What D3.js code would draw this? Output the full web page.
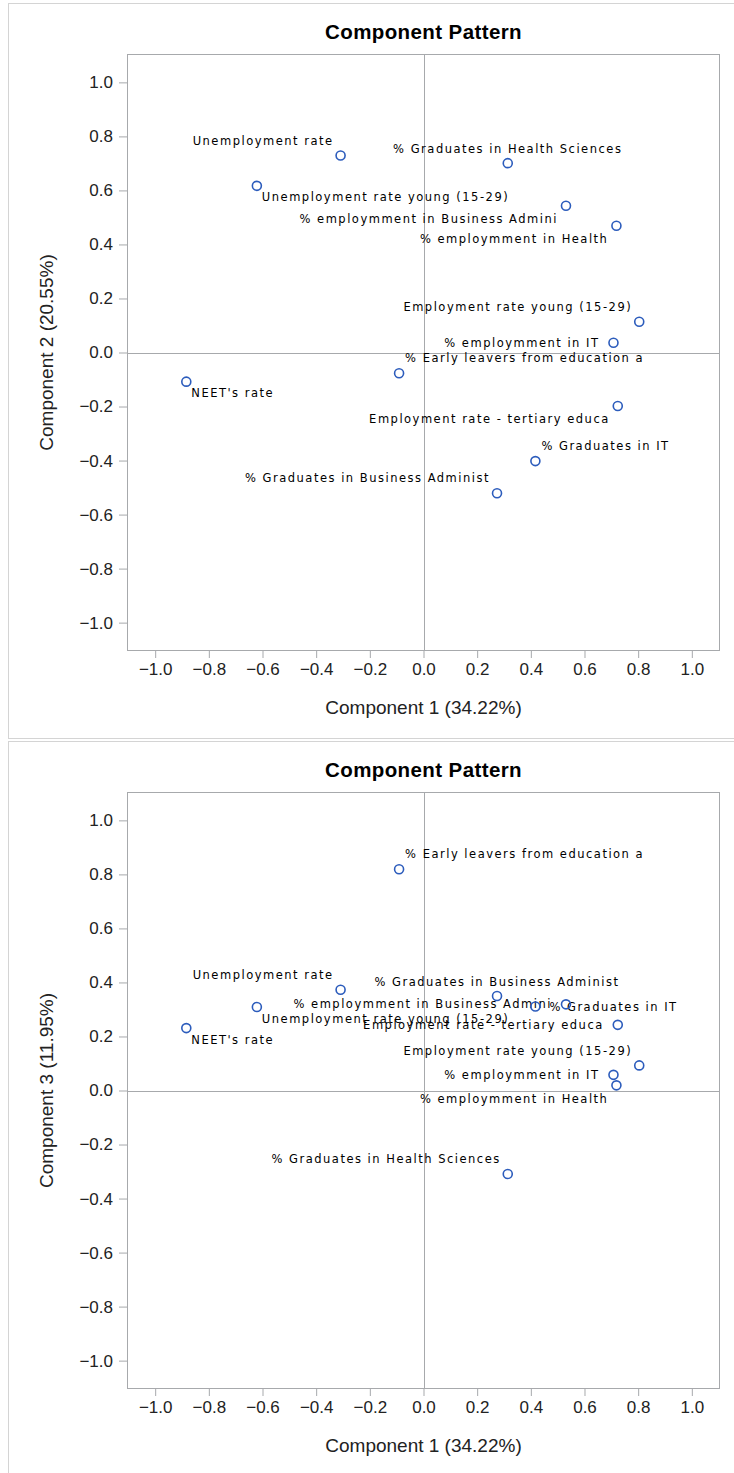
<!DOCTYPE html>
<html><head><meta charset="utf-8">
<script src="https://cdn.jsdelivr.net/npm/d3@7"></script>
<style>
html,body{margin:0;padding:0;background:#fff;}
svg{display:block;}
</style></head>
<body>
<script>
// ---- data ----
const variables = ["Unemployment rate","Unemployment rate young (15-29)","% Graduates in Health Sciences","% employmment in Business Admini","% employmment in Health","Employment rate young (15-29)","% employmment in IT","% Early leavers from education a","NEET's rate","Employment rate - tertiary educa","% Graduates in IT","% Graduates in Business Administ"];
const comp1 = [-0.309,-0.621,0.314,0.531,0.719,0.804,0.708,-0.091,-0.884,0.724,0.417,0.274];
const comp2 = [0.729,0.617,0.701,0.543,0.469,0.114,0.036,-0.077,-0.108,-0.198,-0.402,-0.521];
const comp3 = [0.373,0.309,-0.309,0.319,0.019,0.093,0.058,0.819,0.231,0.243,0.311,0.350];
const tickValues = [-1.0,-0.8,-0.6,-0.4,-0.2,0.0,0.2,0.4,0.6,0.8,1.0];
const chartTitle = "Component Pattern";
const xTitle = "Component 1 (34.22%)";
const yTitles = ["Component 2 (20.55%)","Component 3 (11.95%)"];
// label placement (layout only)
const place1 = ["tl","br","t","bl","bl","tl","l","tr","br","bl","tr","tl"];
const place2 = ["tl","br","tl","l","bl","tl","l","tr","br","l","r","t"];

// ---- layout ----
const W = 734, H = 1473;
const svg = d3.select("body").append("svg").attr("width", W).attr("height", H);
const panelTops = [0, 738];
const L = 127, R = 720, T = 54, B = 651;
const dom = [-1.105, 1.105];
const markerColor = "#2c5cbc";
const frameColor = "#a7a9ac";

const offsets = {
  tl:{a:"end",dx:-7,dy:-15}, tr:{a:"start",dx:6,dy:-15},
  bl:{a:"end",dx:-8,dy:13}, br:{a:"start",dx:5,dy:11.5},
  l:{a:"end",dx:-14,dy:0}, r:{a:"start",dx:14,dy:0},
  t:{a:"middle",dx:0,dy:-14}
};

function drawPanel(idx, yvals, place) {
  const top = panelTops[idx];
  const g = svg.append("g").attr("transform", `translate(0,${top})`);
  const fh = idx === 0 ? 735 : 800;
  g.append("rect").attr("x", 8.5).attr("y", 3.5).attr("width", 740).attr("height", fh)
    .attr("fill", "none").attr("stroke", "#d4d4d4").attr("stroke-width", 1);

  const x = d3.scaleLinear().domain(dom).range([L, R]);
  const y = d3.scaleLinear().domain(dom).range([B, T]);

  g.append("text").attr("x", (L + R) / 2).attr("y", 39).attr("text-anchor", "middle")
    .attr("font-family", "Liberation Sans, Arial, sans-serif").attr("font-weight", "bold")
    .attr("font-size", 20.5).attr("letter-spacing", "0.4px").attr("fill", "#000").text(chartTitle);

  g.append("line").attr("x1", L).attr("x2", R).attr("y1", Math.round(y(0)) + 0.5).attr("y2", Math.round(y(0)) + 0.5)
    .attr("stroke", frameColor).attr("stroke-width", 1);
  g.append("line").attr("y1", T).attr("y2", B).attr("x1", Math.round(x(0)) + 0.5).attr("x2", Math.round(x(0)) + 0.5)
    .attr("stroke", frameColor).attr("stroke-width", 1);

  const xAxis = d3.axisBottom(x).tickValues(tickValues).tickFormat(d3.format(".1f")).tickSizeOuter(0).tickSize(7).tickPadding(5);
  const yAxis = d3.axisLeft(y).tickValues(tickValues).tickFormat(d3.format(".1f")).tickSizeOuter(0).tickSize(8).tickPadding(6);
  const gx = g.append("g").attr("transform", `translate(0,${B})`).call(xAxis);
  const gy = g.append("g").attr("transform", `translate(${L},0)`).call(yAxis);
  [gx, gy].forEach(a => {
    a.select(".domain").remove();
    a.selectAll(".tick line").attr("stroke", frameColor);
    a.selectAll(".tick text").attr("font-family", "Liberation Sans, Arial, sans-serif")
      .attr("font-size", 17).attr("fill", "#222");
  });

  g.append("rect").attr("x", L + 0.5).attr("y", T + 0.5).attr("width", R - L - 1).attr("height", B - T - 1)
    .attr("fill", "none").attr("stroke", frameColor).attr("stroke-width", 1);

  g.append("text").attr("x", (L + R) / 2).attr("y", 714).attr("text-anchor", "middle")
    .attr("font-family", "Liberation Sans, Arial, sans-serif").attr("font-size", 19).attr("fill", "#222").text(xTitle);
  g.append("text").attr("transform", `translate(53,${(T + B) / 2}) rotate(-90)`).attr("text-anchor", "middle")
    .attr("font-family", "Liberation Sans, Arial, sans-serif").attr("font-size", 19).attr("fill", "#222").text(yTitles[idx]);

  const data = variables.map((v, i) => ({ name: v, x: comp1[i], y: yvals[i], p: place[i] }));

  g.append("g").selectAll("text").data(data).join("text")
    .attr("x", d => x(d.x) + offsets[d.p].dx)
    .attr("y", d => y(d.y) + offsets[d.p].dy)
    .attr("dy", "0.36em")
    .attr("text-anchor", d => offsets[d.p].a)
    .attr("font-family", "DejaVu Sans, sans-serif").attr("font-size", 11.5)
    .attr("letter-spacing", "1.5px").attr("fill", "#000")
    .text(d => d.name);

  g.append("g").selectAll("circle").data(data).join("circle")
    .attr("cx", d => x(d.x)).attr("cy", d => y(d.y)).attr("r", 4.5)
    .attr("fill", "none").attr("stroke", markerColor).attr("stroke-width", 1.6);
}

drawPanel(0, comp2, place1);
drawPanel(1, comp3, place2);
</script>
</body></html>
